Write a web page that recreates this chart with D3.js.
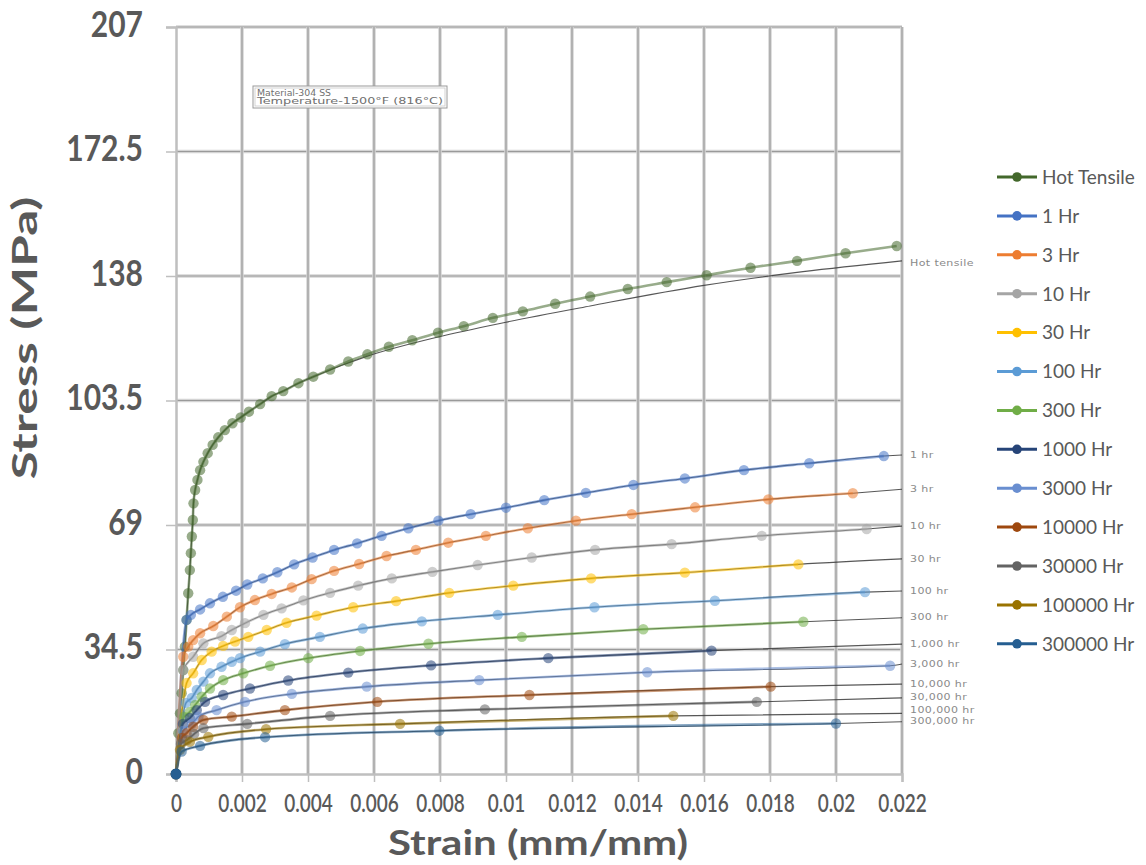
<!DOCTYPE html>
<html>
<head>
<meta charset="utf-8">
<script src="https://cdn.jsdelivr.net/npm/d3@7"></script>
<style>
  body { margin: 0; background: #ffffff; }
  svg { display: block; }
</style>
</head>
<body>
<svg id="chart" width="1146" height="865"></svg>
<script>
// ---- Axis ticks ----
const xTicks = [0, 0.002, 0.004, 0.006, 0.008, 0.01, 0.012, 0.014, 0.016, 0.018, 0.02, 0.022];
const xTickLabels = ["0", "0.002", "0.004", "0.006", "0.008", "0.01", "0.012", "0.014", "0.016", "0.018", "0.02", "0.022"];
const yTicks = [0, 34.5, 69, 103.5, 138, 172.5, 207];
const yTickLabels = ["0", "34.5", "69", "103.5", "138", "172.5", "207"];

// ---- Series (strain mm/mm, stress MPa) ----
const seriesNames = ["Hot Tensile", "1 Hr", "3 Hr", "10 Hr", "30 Hr", "100 Hr", "300 Hr",
  "1000 Hr", "3000 Hr", "10000 Hr", "30000 Hr", "100000 Hr", "300000 Hr"];
const seriesColors = ["#43682B", "#4472C4", "#ED7D31", "#A5A5A5", "#FFC000", "#5B9BD5", "#70AD47",
  "#264478", "#698ED0", "#9E480E", "#636363", "#997300", "#255E91"];
const curveLabels = ["Hot tensile", "1 hr", "3 hr", "10 hr", "30 hr", "100 hr", "300 hr",
  "1,000 hr", "3,000 hr", "10,000 hr", "30,000 hr", "100,000 hr", "300,000 hr"];

const hotTensile = [[0,0],[0.00007,11.3],[0.00012,16.8],[0.00017,22.4],[0.00022,28.8],[0.00027,35.3],
  [0.00032,42.7],[0.00037,50.1],[0.00042,56.5],[0.00045,61.2],[0.00048,65.8],[0.00051,70.4],[0.00053,75.0],
  [0.00058,78.7],[0.00065,81.5],[0.00073,84.2],[0.00083,86.5],[0.00096,88.9],[0.00111,91.2],[0.00128,93.3],
  [0.00148,95.3],[0.00171,97.2],[0.00196,98.8],[0.00221,100.4],[0.00255,102.5],[0.0029,104.7],[0.00325,106.1],
  [0.00371,108.3],[0.00416,110.1],[0.00467,112.1],[0.00522,114.3],[0.0058,116.3],[0.00645,118.4],[0.00716,120.2],
  [0.00794,122.3],[0.00872,124.1],[0.0096,126.4],[0.01051,128.2],[0.01149,130.3],[0.01255,132.3],[0.01369,134.4],
  [0.01487,136.3],[0.01608,138.2],[0.01741,140.3],[0.01882,142.2],[0.02029,144.3],[0.02184,146.3]];
const hr1 = [[0,0],[0.00032,42.7],[0.00045,44.1],[0.00073,45.6],[0.00103,47.3],[0.00142,49.1],[0.00182,50.8],
  [0.00216,52.5],[0.00263,54.2],[0.00307,55.9],[0.00358,58.1],[0.00414,60.0],[0.00479,62.1],[0.00549,63.9],
  [0.00623,66.0],[0.00704,68.1],[0.00795,70.2],[0.00893,72.0],[0.01,73.8],[0.01116,75.9],[0.01242,77.9],
  [0.01386,80.1],[0.01542,81.9],[0.01721,84.2],[0.01919,86.1],[0.02145,88.1]];
const hr3 = [[0,0],[0.00022,32.5],[0.00037,35.3],[0.00052,37.1],[0.00073,39.0],[0.00113,41.0],[0.00154,43.6],
  [0.00194,46.2],[0.00239,48.2],[0.0029,49.9],[0.00351,51.7],[0.00411,54.0],[0.00479,56.3],[0.00555,58.2],
  [0.00638,60.4],[0.00727,62.1],[0.00825,64.1],[0.00939,66.0],[0.01066,68.1],[0.01212,70.2],[0.01381,72.0],
  [0.01573,73.9],[0.01795,76.1],[0.02051,77.8]];
const hr10 = [[0,0],[0.00022,28.8],[0.00052,32.5],[0.00083,36.2],[0.00138,38.2],[0.00169,39.9],[0.00209,41.8],
  [0.00265,44.1],[0.0032,45.9],[0.00386,48.1],[0.00467,50.2],[0.00552,52.2],[0.00654,54.2],[0.00777,56.0],
  [0.00914,57.9],[0.01078,60.0],[0.0127,62.1],[0.01502,63.7],[0.01775,66.0],[0.02093,67.9]];
const hr30 = [[0,0],[0.00032,25.2],[0.00052,27.9],[0.00078,31.6],[0.00108,33.9],[0.00143,35.5],[0.00179,36.7],
  [0.00219,38.0],[0.00275,39.9],[0.00335,41.9],[0.00426,43.9],[0.00537,46.2],[0.00667,47.9],[0.00828,50.2],
  [0.01022,52.2],[0.01258,54.2],[0.01542,55.8],[0.01886,58.1]];
const hr100 = [[0,0],[0.0003,19.7],[0.00048,21.1],[0.00063,23.3],[0.00083,25.6],[0.00103,27.9],[0.00138,29.7],
  [0.00169,31.1],[0.00194,32.1],[0.00255,33.9],[0.0033,36.0],[0.00436,38.0],[0.00566,40.3],[0.00745,42.3],
  [0.00975,44.1],[0.01268,46.2],[0.01633,48.0],[0.02088,50.4]];
const hr300 = [[0,0],[0.00024,15.8],[0.00042,17.2],[0.00058,19.1],[0.00078,21.4],[0.00103,23.7],[0.00143,26.0],
  [0.00204,27.9],[0.00285,30.0],[0.00401,32.1],[0.00558,34.1],[0.00765,36.1],[0.01048,38.0],[0.01416,40.1],
  [0.01901,42.2]];
const hr1000 = [[0,0],[0.00021,13.9],[0.00042,15.5],[0.00063,17.7],[0.00088,20.0],[0.00143,21.9],[0.00224,23.7],
  [0.0034,25.9],[0.00522,28.1],[0.00773,30.1],[0.01128,32.1],[0.01623,34.2]];
const hr3000 = [[0,0],[0.00021,11.9],[0.00048,13.9],[0.00068,15.9],[0.00123,17.7],[0.00209,20.0],[0.00351,22.2],
  [0.00578,24.2],[0.00919,26.0],[0.01428,28.2],[0.02164,30.0]];
const hr10000 = [[0,0],[0.00018,10.0],[0.00032,11.3],[0.00052,13.1],[0.00083,15.0],[0.00169,15.9],[0.0033,17.7],
  [0.0061,20.0],[0.01071,21.9],[0.01802,24.2]];
const hr30000 = [[0,0],[0.00015,8.3],[0.00033,9.4],[0.00055,11.1],[0.00083,12.7],[0.00216,13.9],[0.00467,16.1],
  [0.00936,17.9],[0.0176,20.0]];
const hr100000 = [[0,0],[0.00012,6.7],[0.00042,8.9],[0.00098,10.3],[0.00273,12.4],[0.00679,13.9],[0.01507,16.1]];
const hr300000 = [[0,0],[0.00017,6.2],[0.00073,7.8],[0.0027,10.2],[0.00798,12.0],[0.02,14.0]];

const seriesData = [hotTensile, hr1, hr3, hr10, hr30, hr100, hr300, hr1000, hr3000, hr10000, hr30000, hr100000, hr300000];

// Published isochronous curves: stress where each curve meets the 0.022 edge
const curveEndStress = [142.2, 88.4, 78.9, 68.7, 59.6, 50.7, 43.3, 36.0, 30.5, 24.9, 21.1, 16.8, 14.5];
// Published hot tensile curve beyond the point where it leaves the measured markers
const hotTensileCurveTail = [[0.0058,115.8],[0.00794,121.1],[0.01,125.2],[0.01255,129.7],[0.016,135.4],[0.019,139.2]];

// ---- Layout ----
const svg = d3.select("#chart");
const x = d3.scaleLinear().domain([0, 0.022]).range([176, 902]);
const y = d3.scaleLinear().domain([0, 207]).range([774, 27]);
const textColor = "#595959";

// Gridlines
const grid = svg.append("g");
yTicks.filter(d => d > 0).forEach(d => {
  grid.append("line").attr("x1", x(0)).attr("x2", x(0.022)).attr("y1", y(d)).attr("y2", y(d))
    .attr("stroke", "#d4d4d4").attr("stroke-width", 3.5);
  grid.append("line").attr("x1", x(0)).attr("x2", x(0.022)).attr("y1", y(d)).attr("y2", y(d))
    .attr("stroke", "#9a9a9a").attr("stroke-width", 1.2);
});
xTicks.filter(d => d > 0).forEach(d => {
  grid.append("line").attr("x1", x(d)).attr("x2", x(d)).attr("y1", y(0)).attr("y2", y(207))
    .attr("stroke", "#d4d4d4").attr("stroke-width", 3.5);
  grid.append("line").attr("x1", x(d)).attr("x2", x(d)).attr("y1", y(0)).attr("y2", y(207))
    .attr("stroke", "#9a9a9a").attr("stroke-width", 1.2);
});

// Axes
const xAxis = svg.append("g").attr("transform", `translate(0,${y(0)})`)
  .call(d3.axisBottom(x).tickValues(xTicks).tickSize(8).tickFormat((d, i) => xTickLabels[i]));
xAxis.select(".domain").attr("stroke", "#bfbfbf").attr("stroke-width", 2.5);
xAxis.selectAll(".tick line").attr("stroke", "#bfbfbf").attr("stroke-width", 1.5);
xAxis.selectAll(".tick text").attr("fill", textColor).attr("font-family", "Lato, sans-serif")
  .attr("font-size", 19).attr("font-weight", 600).attr("y", 0).attr("dy", 0)
  .attr("transform", "translate(0,32) scale(1,1.3)").attr("dominant-baseline", "middle");

const yAxis = svg.append("g").attr("transform", `translate(${x(0)},0)`)
  .call(d3.axisLeft(y).tickValues(yTicks).tickSize(10).tickFormat((d, i) => yTickLabels[i]));
yAxis.select(".domain").attr("stroke", "#bfbfbf").attr("stroke-width", 2.5);
yAxis.selectAll(".tick line").attr("stroke", "#bfbfbf").attr("stroke-width", 1.5);
yAxis.selectAll(".tick text").attr("fill", textColor).attr("font-family", "Lato, sans-serif")
  .attr("font-weight", "bold").attr("font-size", 30).attr("x", 0).attr("dy", 0)
  .attr("dominant-baseline", "middle").attr("transform", "translate(-33,0) scale(1,1.2)");

// Axis titles
svg.append("text").attr("transform", "translate(538,855) scale(1.2,1)").attr("text-anchor", "middle")
  .attr("fill", textColor).attr("font-family", "Lato, sans-serif").attr("font-weight", "bold")
  .attr("font-size", 35).text("Strain (mm/mm)");
svg.append("text").attr("transform", "translate(28,338) rotate(-90) scale(1.47,1)").attr("text-anchor", "middle")
  .attr("dominant-baseline", "middle")
  .attr("fill", textColor).attr("font-family", "Lato, sans-serif").attr("font-weight", "bold")
  .attr("font-size", 35).text("Stress (MPa)");

// Material note
const note = svg.append("g");
note.append("rect").attr("x", 253).attr("y", 86).attr("width", 194).attr("height", 22)
  .attr("fill", "#fff").attr("stroke", "#9a9a9a").attr("stroke-width", 1);
note.append("rect").attr("x", 255).attr("y", 88).attr("width", 190).attr("height", 18)
  .attr("fill", "none").attr("stroke", "#c8c8c8").attr("stroke-width", 0.8);
note.append("text").attr("x", 257).attr("y", 95.5).attr("font-family", "DejaVu Sans, sans-serif")
  .attr("font-size", 8.5).attr("fill", "#707070")
  .attr("textLength", 74).attr("lengthAdjust", "spacingAndGlyphs").text("Material-304 SS");
note.append("text").attr("x", 257).attr("y", 104).attr("font-family", "DejaVu Sans, sans-serif")
  .attr("font-size", 8.5).attr("fill", "#707070")
  .attr("textLength", 186).attr("lengthAdjust", "spacingAndGlyphs").text("Temperature-1500°F (816°C)");

const smooth = d3.line().x(d => x(d[0])).y(d => y(d[1])).curve(d3.curveMonotoneX);

// Published curves (thin dark lines running to the right edge)
const refLayer = svg.append("g");
seriesData.forEach((pts, i) => {
  let curve;
  if (i === 0) {
    curve = pts.filter(p => p[0] <= 0.0042).concat(hotTensileCurveTail);
  } else {
    curve = pts.slice();
  }
  curve = curve.concat([[0.022, curveEndStress[i]]]);
  refLayer.append("path").attr("d", smooth(curve)).attr("fill", "none")
    .attr("stroke", "#3a3a3a").attr("stroke-width", 1.1).attr("stroke-opacity", 0.85);
});

// Curve labels at the right edge, kept apart from each other
const labelY = curveEndStress.map(s => y(s));
const order = d3.range(labelY.length).sort((a, b) => labelY[b] - labelY[a]);
for (let k = 1; k < order.length; k++) {
  const prev = labelY[order[k - 1]];
  if (prev - labelY[order[k]] < 11) labelY[order[k]] = prev - 11;
}
curveLabels.forEach((t, i) => {
  svg.append("text").attr("transform", `translate(910,${labelY[i] + (i === 0 ? 3 : 0)}) scale(1.3,1)`)
    .attr("dominant-baseline", "middle")
    .attr("font-family", "DejaVu Sans, sans-serif").attr("font-size", 8.5)
    .attr("fill", "#8a8a8a").attr("letter-spacing", 0.3).text(t);
});

// Measured series: coloured lines with translucent markers
const seriesLayer = svg.append("g");
seriesData.forEach((pts, i) => {
  const g = seriesLayer.append("g");
  g.append("path").attr("d", smooth(pts)).attr("fill", "none")
    .attr("stroke", seriesColors[i]).attr("stroke-width", 2.6).attr("stroke-opacity", 0.55);
  g.selectAll("circle").data(pts).join("circle")
    .attr("cx", d => x(d[0])).attr("cy", d => y(d[1])).attr("r", 5.2)
    .attr("fill", seriesColors[i]).attr("fill-opacity", 0.55);
});
// Origin point shared by every series
svg.append("circle").attr("cx", x(0)).attr("cy", y(0)).attr("r", 5.5).attr("fill", seriesColors[12]);

// Legend
const legend = svg.append("g");
seriesNames.forEach((name, i) => {
  const ly = 177 + i * 38.9;
  legend.append("line").attr("x1", 997).attr("x2", 1037).attr("y1", ly).attr("y2", ly)
    .attr("stroke", seriesColors[i]).attr("stroke-width", 3);
  legend.append("circle").attr("cx", 1017).attr("cy", ly).attr("r", 4.8).attr("fill", seriesColors[i]);
  legend.append("text").attr("x", 1042).attr("y", ly).attr("dy", "0.36em")
    .attr("font-family", "Lato, sans-serif").attr("font-size", 19).attr("fill", textColor).text(name);
});
</script>
</body>
</html>
